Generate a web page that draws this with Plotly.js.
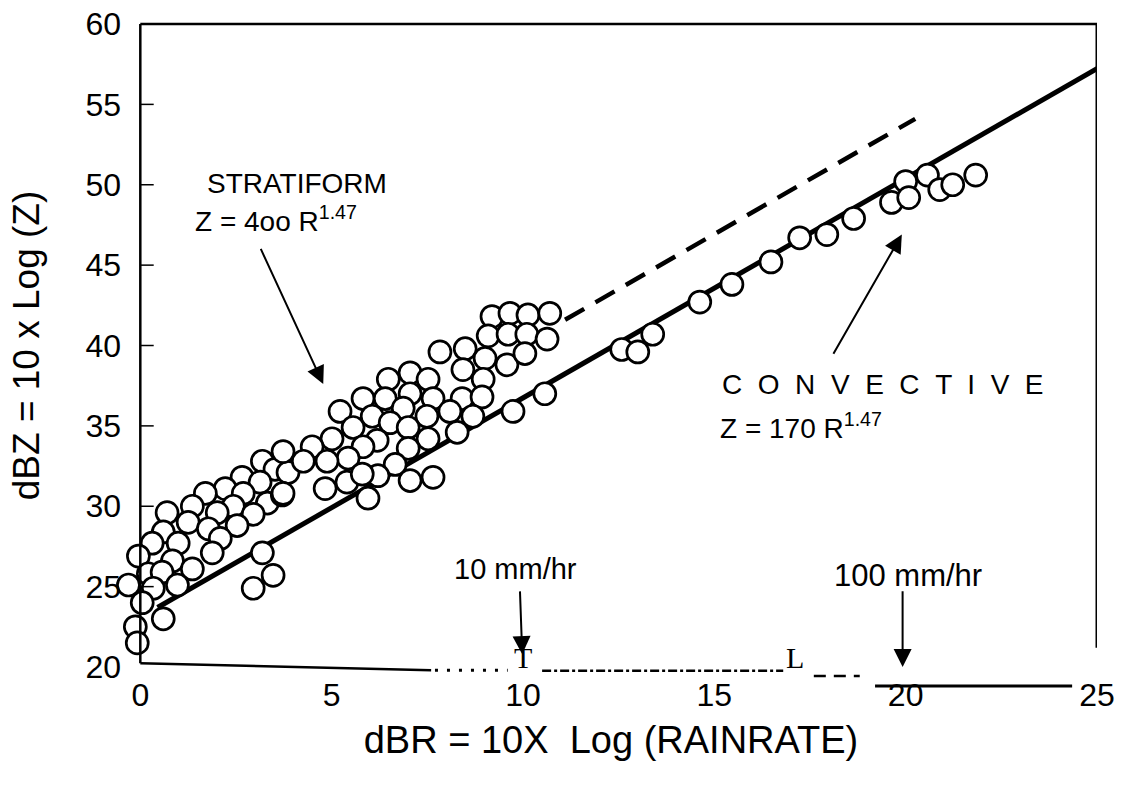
<!DOCTYPE html>
<html>
<head>
<meta charset="utf-8">
<script src="https://cdn.plot.ly/plotly-3.0.1.min.js"></script>
<style>html,body{margin:0;padding:0;background:#fff;}#chart{width:1130px;height:790px;}</style>
</head>
<body>
<div id="chart"></div>
<script>
// Stratiform observations (dBR, dBZ)
var stratX = [3.19,3.52,3.86,2.66,3.13,2.22,1.70,2.69,3.32,3.71,2.43,1.36,2.01,2.95,0.70,1.25,2.53,1.78,0.60,2.09,0.99,0.31,1.88,-0.05,0.84,1.36,0.21,0.57,0.97,-0.31,0.34,0.05,0.60,-0.13,-0.08,
  7.05,6.48,7.52,5.82,7.05,6.40,7.65,5.22,6.06,6.87,7.49,6.53,5.56,7.00,5.01,6.19,7.52,4.49,5.82,7.00,3.73,5.43,4.26,4.88,6.66,6.21,5.40,7.05,7.65,4.83,3.73,5.95,5.80,
  9.19,9.66,10.13,10.70,9.09,9.61,10.10,10.63,7.83,8.49,9.01,9.58,10.05,8.43,8.96,8.41,8.93,8.09,8.69,8.28];
var stratY = [32.8,32.3,32.1,31.8,31.5,31.1,30.8,30.8,30.2,30.7,30.0,30.0,29.6,29.5,29.6,29.0,28.8,28.6,28.4,28.0,27.7,27.7,27.1,26.9,26.6,26.1,25.8,25.9,25.1,25.1,24.9,24.0,23.0,22.5,21.5,
  38.3,37.9,37.9,36.7,37.0,36.7,36.7,35.9,35.6,36.1,35.6,35.2,34.9,34.9,34.2,34.1,34.2,33.7,33.7,33.6,33.4,33.0,32.8,32.8,32.6,31.9,31.5,31.6,31.8,31.1,30.8,30.5,32.0,
  41.8,42.0,41.9,42.0,40.6,40.7,40.7,40.4,39.6,39.8,39.2,38.8,39.5,38.5,37.9,36.7,36.8,35.9,35.6,34.6];
// Convective observations
var convX = [2.95,3.19,3.47,9.74,10.57,12.58,13.0,13.39,14.62,15.46,16.48,17.23,17.94,18.64,19.63,20.0,20.08,20.57,20.89,21.23,21.83];
var convY = [24.9,27.1,25.7,35.9,37.0,39.75,39.6,40.7,42.7,43.8,45.2,46.7,46.9,47.9,48.9,50.2,49.2,50.6,49.7,50.0,50.6];
// Fitted relations (endpoints)
var convLineX = [0.45, 25.35];
var convLineY = [23.7, 57.7];
var stratLineX = [11.1, 20.25];
var stratLineY = [41.6, 54.1];
// Axis ticks
var xTicks = [0,5,10,15,20,25];
var xTickText = ['0','5','10','15','20','25'];
var yTicks = [20,25,30,35,40,45,50,55,60];
var yTickText = ['20','25','30','35','40','45','50','55','60'];

var FONT = 'Liberation Sans, Arial, Helvetica, sans-serif';
var SERIF = 'Liberation Serif, Times New Roman, serif';
var marker = {size: 22, color: '#ffffff', line: {color: '#000000', width: 2.7}};

var traces = [
  {x: convLineX, y: convLineY, mode: 'lines', line: {color: '#000', width: 5}, cliponaxis: false, hoverinfo: 'skip'},
  {x: stratLineX, y: stratLineY, mode: 'lines', line: {color: '#000', width: 4.5, dash: '22px,13px'}, cliponaxis: false, hoverinfo: 'skip'},
  {x: stratX, y: stratY, mode: 'markers', marker: marker, cliponaxis: false},
  {x: convX, y: convY, mode: 'markers', marker: marker, cliponaxis: false}
];

function arrow(x, y, ax, ay, w, s) {
  return {x: x, y: y, ax: ax, ay: ay, xref: 'x', yref: 'y', axref: 'x', ayref: 'y',
    text: '', showarrow: true, arrowhead: 2, arrowsize: s || 1.8, arrowwidth: w || 2, arrowcolor: '#000', standoff: 0};
}
function label(x, y, t, xa, size, fam) {
  return {x: x, y: y, xref: 'x', yref: 'y', text: t, showarrow: false, xanchor: xa || 'left', yanchor: 'middle',
    font: {family: fam || FONT, size: size || 28, color: '#000'}};
}
var nb = '\u00A0';
function pad(n) { var s = ''; for (var i = 0; i < n; i++) { s += nb; } return s; }
var conv = ['C','O','N','V','E','C','T','I','V','E'].join(' ' + nb);

var annotations = [
  label(1.70, 50.1, 'STRATIFORM', 'left', 28),
  label(1.38, 47.9, 'Z = 4oo R<sup>1.47</sup>', 'left', 28),
  arrow(4.78, 37.6, 3.13, 46.1, 2),
  label(15.14, 37.6, conv, 'left', 28),
  label(15.09, 35.0, 'Z = 170 R<sup>1.47</sup>', 'left', 28),
  arrow(19.9, 46.9, 18.09, 39.4, 2),
  label(9.8, 26.1, '10 mm/hr', 'center', 29),
  arrow(9.98, 20.8, 9.92, 24.8, 2),
  label(20.05, 25.7, '100 mm/hr', 'center', 31),
  arrow(19.92, 20.0, 19.92, 24.8, 2),
  label(10.0, 20.6, 'T', 'center', 30, SERIF),
  label(17.1, 20.6, 'L', 'center', 30, SERIF)
];

var shapes = [
  // frame: left, top, right
  {type: 'line', xref: 'x', yref: 'paper', x0: 0, x1: 0, y0: 0.006, y1: 1, line: {color: '#000', width: 2.5}},
  {type: 'line', xref: 'x', yref: 'paper', x0: 0, x1: 25, y0: 1, y1: 1, line: {color: '#000', width: 2.5}},
  {type: 'line', xref: 'x', yref: 'paper', x0: 25, x1: 25, y0: 0.03, y1: 1, line: {color: '#000', width: 3}},
  // bottom axis (broken in the original print)
  {type: 'line', xref: 'x', yref: 'paper', x0: 0, x1: 7.6, y0: 0.006, y1: -0.005, line: {color: '#000', width: 2.5}},
  {type: 'line', xref: 'x', yref: 'paper', x0: 7.7, x1: 9.6, y0: -0.005, y1: -0.005, line: {color: '#000', width: 3, dash: '3px,9px'}},
  {type: 'line', xref: 'x', yref: 'paper', x0: 10.5, x1: 16.8, y0: -0.006, y1: -0.006, line: {color: '#000', width: 2.5, dash: 'dashdot'}},
  {type: 'line', xref: 'x', yref: 'paper', x0: 17.6, x1: 18.8, y0: -0.014, y1: -0.014, line: {color: '#000', width: 2.5, dash: '12px,8px'}},
  {type: 'line', xref: 'x', yref: 'paper', x0: 19.2, x1: 24.35, y0: -0.0295, y1: -0.0295, line: {color: '#000', width: 3}}
];
// small inside tick marks on the left axis
yTicks.forEach(function (v) {
  if (v > 20 && v < 60) {
    shapes.push({type: 'line', xref: 'x', yref: 'y', x0: 0, x1: 0.35, y0: v, y1: v, line: {color: '#000', width: 1.5}});
  }
});

var layout = {
  width: 1130, height: 790,
  margin: {l: 125, r: 33, t: 24, b: 123},
  paper_bgcolor: '#fff', plot_bgcolor: '#fff',
  showlegend: false,
  font: {family: FONT, color: '#000'},
  xaxis: {
    range: [-0.4, 25], tickvals: xTicks, ticktext: xTickText, showgrid: false, zeroline: false,
    showline: false, ticks: '', tickfont: {size: 32, family: FONT}, ticklabelstandoff: 6,
    title: {text: 'dBR = 10X  Log (RAINRATE)' + pad(11), font: {size: 38, family: FONT}, standoff: 14}
  },
  yaxis: {
    range: [20, 60], tickvals: yTicks, ticktext: yTickText, showgrid: false, zeroline: false,
    showline: false, ticks: '',
    tickfont: {size: 32, family: FONT}, ticklabelstandoff: 3,
    title: {text: 'dBZ = 10 x Log (Z)' + pad(3), font: {size: 37, family: FONT}, standoff: 34}
  },
  annotations: annotations,
  shapes: shapes
};

Plotly.newPlot('chart', traces, layout, {staticPlot: true, displayModeBar: false});
</script>
</body>
</html>
